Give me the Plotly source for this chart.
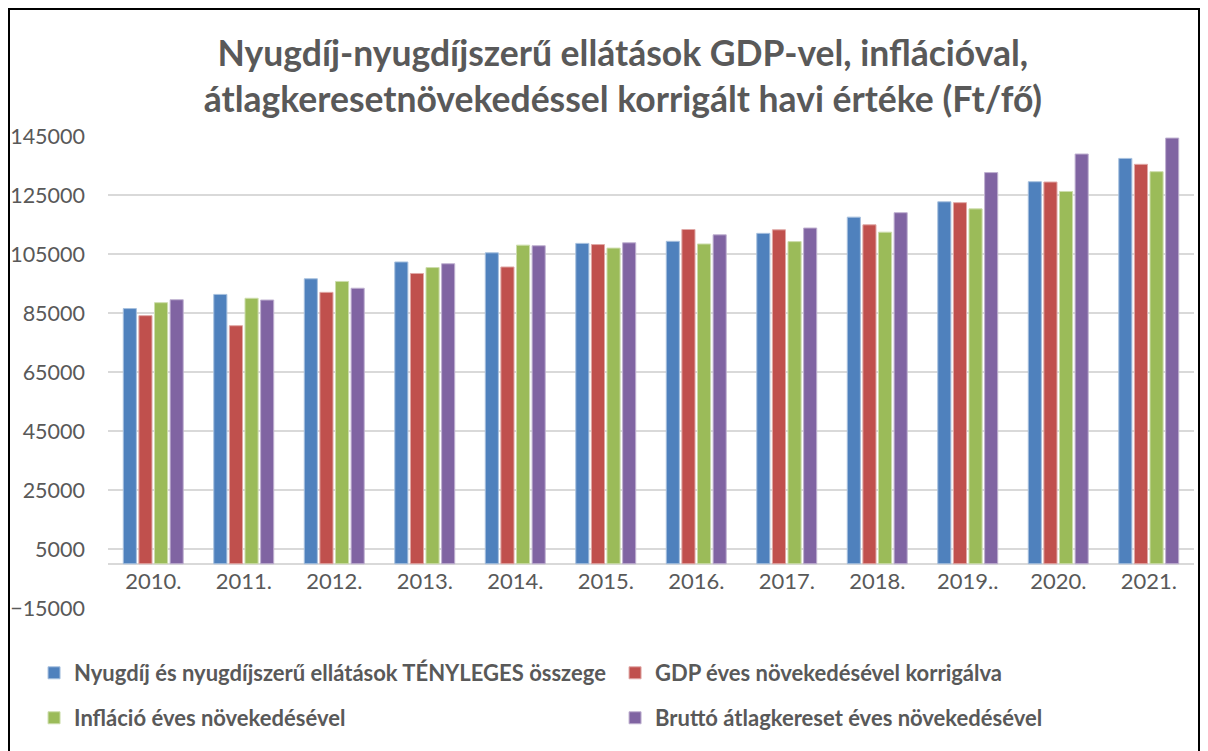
import plotly.graph_objects as go

years = ["2010.", "2011.", "2012.", "2013.", "2014.", "2015.", "2016.", "2017.", "2018.", "2019..", "2020.", "2021."]
tenyleges = [86500, 91300, 96600, 102300, 105400, 108600, 109300, 112000, 117500, 122700, 129500, 137400]
gdp = [84100, 80700, 92000, 98400, 100600, 108200, 113300, 113200, 114900, 122400, 129400, 135400]
inflacio = [88500, 90000, 95700, 100400, 108000, 107000, 108400, 109200, 112400, 120300, 126200, 132900]
brutto = [89500, 89400, 93400, 101700, 107800, 108800, 111500, 113800, 119000, 132600, 138900, 144300]

names = [
    "Nyugdíj és nyugdíjszerű ellátások TÉNYLEGES összege",
    "GDP éves növekedésével korrigálva",
    "Infláció éves növekedésével",
    "Bruttó átlagkereset éves növekedésével",
]
colors = ["#4F81BD", "#C0504D", "#9BBB59", "#8064A2"]
edges = ["#A7C0DE", "#E0A8A6", "#CDDDAC", "#BFB1D0"]
series = [tenyleges, gdp, inflacio, brutto]
legend_ids = ["legend", "legend2", "legend3", "legend4"]
legend_pos = [(-0.0681, -0.1377), (0.4669, -0.1377), (-0.0681, -0.233), (0.4669, -0.233)]

FONT = "Lato"
GRAY = "#595959"

fig = go.Figure()
for n, c, e, s, lg in zip(names, colors, edges, series, legend_ids):
    fig.add_trace(go.Bar(
        x=years, y=s, name=n, legend=lg,
        marker=dict(color=c, line=dict(color=e, width=1)),
    ))

ymin, ymax = -15000, 145000
legend_layout = {}
for lg, (lx, ly) in zip(legend_ids, legend_pos):
    legend_layout[lg] = dict(
        orientation="h", x=lx, xanchor="left", y=ly, yanchor="middle",
        font=dict(family=FONT, size=22, color=GRAY, weight="bold"),
        itemwidth=30, bgcolor="rgba(0,0,0,0)",
    )

fig.update_layout(
    width=1208, height=751,
    margin=dict(l=100, r=22, t=128, b=151, autoexpand=False),
    paper_bgcolor="white", plot_bgcolor="white",
    barmode="group", bargap=0.31, bargroupgap=0.16,
    font=dict(family=FONT, color=GRAY),
    title=dict(
        text="<b>Nyugdíj-nyugdíjszerű ellátások GDP-vel, inflációval,<br>átlagkeresetnövekedéssel korrigált havi értéke (Ft/fő)</b>",
        x=0.509, xanchor="center", xref="container",
        y=0.9234, yanchor="middle", yref="container",
        font=dict(family=FONT, size=35.5, color=GRAY),
    ),
    xaxis=dict(
        anchor="free", position=(0 - ymin) / (ymax - ymin),
        showline=False, showgrid=False, ticks="",
        tickfont=dict(family=FONT, size=22, color=GRAY),
        ticklabelstandoff=2,
    ),
    yaxis=dict(
        range=[ymin, ymax], tick0=5000, dtick=20000,
        tickformat="d", showgrid=True, gridcolor="#D9D9D9", gridwidth=1.5,
        zeroline=True, zerolinecolor="#D9D9D9", zerolinewidth=1.5,
        showline=False, ticks="",
        tickfont=dict(family=FONT, size=21.5, color=GRAY),
        ticklabelstandoff=22,
    ),
    showlegend=True,
    **legend_layout,
)

fig.add_shape(type="rect", xref="paper", yref="paper",
              x0=-99 / 1086, x1=1091 / 1086, y0=-0.35, y1=599 / 472,
              line=dict(color="black", width=2), fillcolor="rgba(0,0,0,0)", layer="above")

fig.write_html("out.html")
